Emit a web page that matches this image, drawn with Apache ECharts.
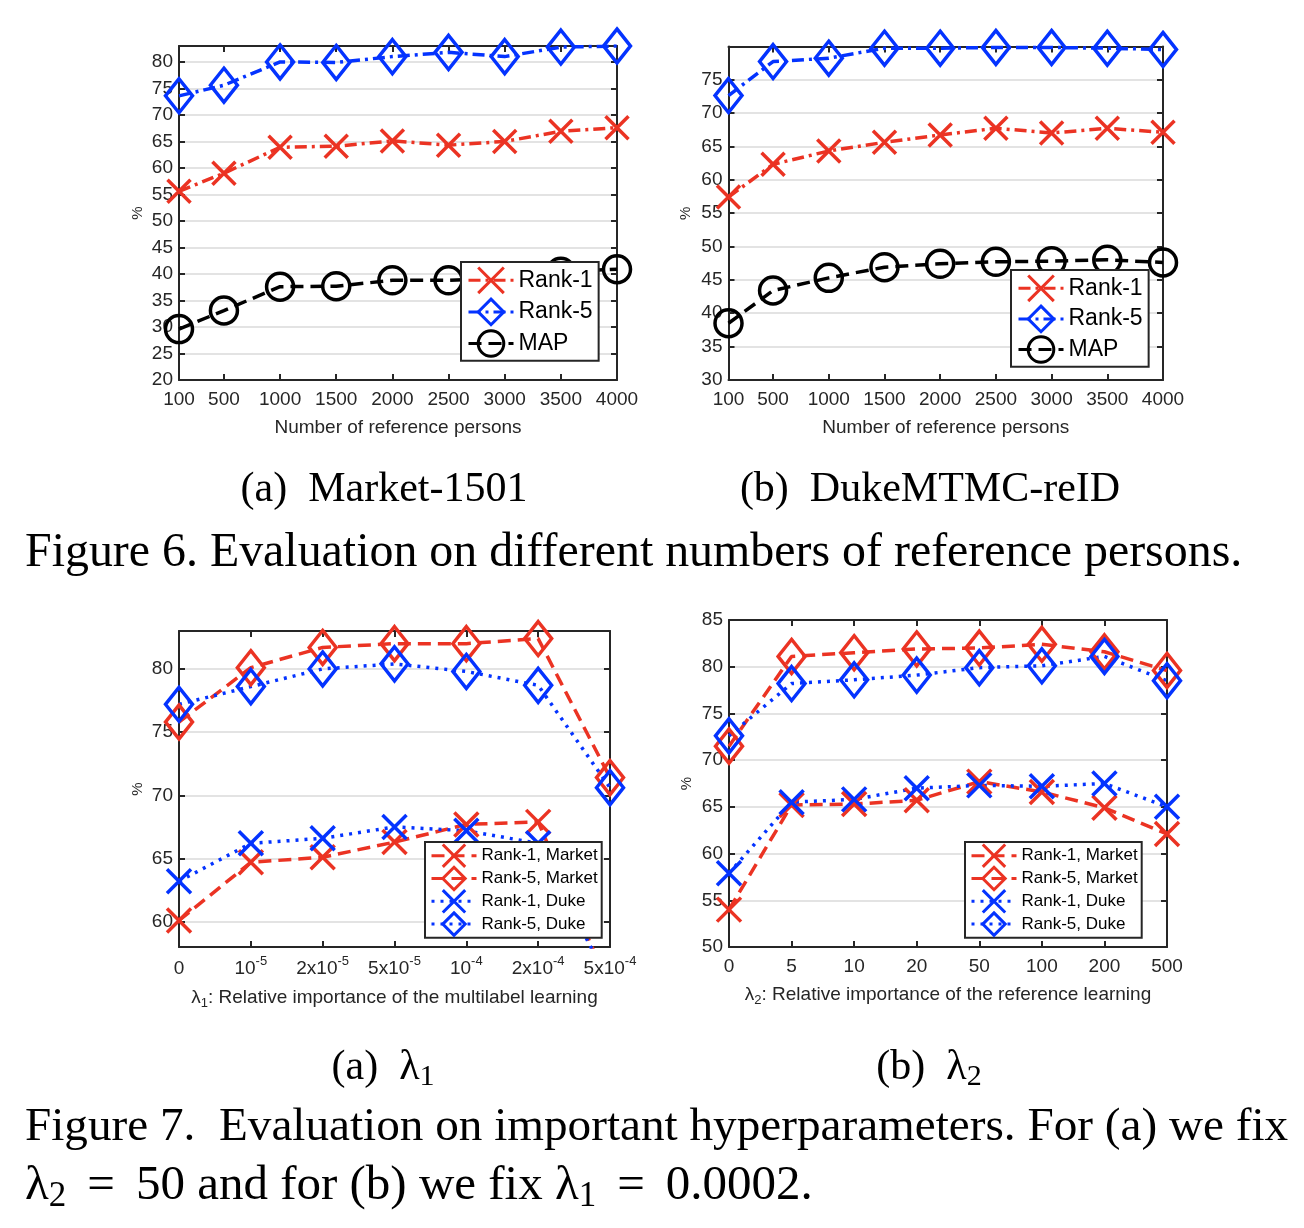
<!DOCTYPE html>
<html><head><meta charset="utf-8">
<script src="https://cdn.jsdelivr.net/npm/echarts@6/dist/echarts.min.js"></script>
<style>html,body{margin:0;padding:0;background:#fff}#c{width:1304px;height:1228px}</style>
</head><body><div id="c"></div>
<script>
// ---------- data ----------
const refPersons = [100, 500, 1000, 1500, 2000, 2500, 3000, 3500, 4000];
const marketRank1 = [55.6, 59.0, 63.9, 64.1, 65.1, 64.3, 65.0, 66.9, 67.6];
const marketRank5 = [73.6, 75.6, 80.0, 79.9, 81.0, 81.8, 81.0, 82.8, 83.0];
const marketMAP = [29.6, 33.1, 37.6, 37.7, 38.8, 38.8, 39.3, 40.4, 40.9];
const dukeRank1 = [57.4, 62.3, 64.3, 65.6, 66.7, 67.7, 67.0, 67.7, 67.1];
const dukeRank5 = [72.6, 77.7, 78.2, 79.7, 79.7, 79.8, 79.8, 79.7, 79.5];
const dukeMAP = [38.5, 43.4, 45.3, 46.9, 47.4, 47.7, 47.8, 48.0, 47.6];

const lambda1Cats = ['0', '1e-5', '2e-5', '5e-5', '1e-4', '2e-4', '5e-4'];
const lambda1Labels = ['0', '10{s|-5}', '2x10{s|-5}', '5x10{s|-5}', '10{s|-4}', '2x10{s|-4}', '5x10{s|-4}'];
const l1Rank1Market = [60.1, 64.7, 65.1, 66.3, 67.7, 67.9, 54.7];
const l1Rank5Market = [75.8, 80.1, 81.7, 82.0, 82.0, 82.4, 71.4];
const l1Rank1Duke = [63.2, 66.2, 66.6, 67.5, 67.2, 66.2, 55.0];
const l1Rank5Duke = [77.2, 78.6, 80.0, 80.4, 79.8, 78.7, 70.6];

const lambda2Cats = ['0', '5', '10', '20', '50', '100', '200', '500'];
const l2Rank1Market = [54.0, 65.2, 65.3, 65.7, 67.7, 66.6, 64.9, 62.1];
const l2Rank5Market = [71.5, 81.1, 81.5, 81.9, 82.0, 82.4, 81.6, 79.6];
const l2Rank1Duke = [57.9, 65.5, 65.8, 67.0, 67.3, 67.2, 67.5, 65.0];
const l2Rank5Duke = [72.6, 78.2, 78.6, 79.1, 79.9, 80.1, 81.1, 78.5];

const yTicksMarket = [20, 25, 30, 35, 40, 45, 50, 55, 60, 65, 70, 75, 80];
const yTicksDuke = [30, 35, 40, 45, 50, 55, 60, 65, 70, 75];
const yTicksL1 = [60, 65, 70, 75, 80];
const yTicksL2 = [50, 55, 60, 65, 70, 75, 80, 85];

// ---------- styles ----------
const RED = '#eb3323', BLUE = '#0433ff', BLK = '#000000', AX = '#262626';
const SANS = '"Liberation Sans", Arial, Helvetica, sans-serif';
const SERIF = '"Liberation Serif", "Times New Roman", serif';
const X_SYM = 'path://M0,0L20,20M20,0L0,20';
const DASHDOT = [12, 5, 3, 5], DASH = [13, 7], DOT = [3, 6];
const LW = 3.5;

const grids = [
  {left: 179, top: 46, width: 438, height: 334},
  {left: 728.5, top: 46.5, width: 434.5, height: 333.5},
  {left: 179, top: 631, width: 431, height: 316},
  {left: 729, top: 620, width: 438, height: 327}
];

const axLine = {show: true, lineStyle: {color: AX, width: 2}};
const tick = (vals) => Object.assign({show: true, inside: true, length: 6, lineStyle: {color: AX, width: 2}}, vals ? {customValues: vals} : {alignWithLabel: true, interval: 0});
const plain = (v) => String(v);

function valX(gi, top) {
  return {
    type: 'value', gridIndex: gi, min: 100, max: 4000, position: top ? 'top' : 'bottom',
    axisLine: axLine, axisTick: tick(refPersons), splitLine: {show: false},
    axisLabel: top ? {show: false} : {customValues: refPersons, formatter: plain, fontSize: 19, color: AX, margin: 10, fontFamily: SANS},
    name: top ? '' : 'Number of reference persons', nameLocation: 'middle', nameGap: 38,
    nameTextStyle: {fontSize: 19, color: AX, fontFamily: SANS}
  };
}
function catX(gi, cats, top, extra) {
  const a = {
    type: 'category', gridIndex: gi, data: cats, boundaryGap: false, position: top ? 'top' : 'bottom',
    axisLine: axLine, axisTick: tick(null), splitLine: {show: false},
    axisLabel: {show: !top, interval: 0, fontSize: 19, color: AX, margin: 10, fontFamily: SANS}
  };
  return Object.assign(a, top ? {} : extra);
}
function valY(gi, min, max, ticks, right, gap) {
  return {
    type: 'value', gridIndex: gi, min: min, max: max, position: right ? 'right' : 'left',
    axisLine: axLine, axisTick: tick(ticks),
    splitLine: right ? {show: false} : {show: true, lineStyle: {color: '#e3e3e3', width: 2}},
    axisLabel: right ? {show: false} : {customValues: ticks, formatter: plain, fontSize: 19, color: AX, margin: 6, fontFamily: SANS},
    name: right ? '' : '%', nameLocation: 'middle', nameGap: gap || 34,
    nameTextStyle: {fontSize: 15, color: AX, fontFamily: SANS}
  };
}

function ser(name, gi, data, color, symbol, size, dash) {
  return {
    type: 'line', name: name, xAxisIndex: gi, yAxisIndex: gi, data: data,
    symbol: symbol, symbolSize: size, showAllSymbol: true, symbolKeepAspect: false,
    lineStyle: {color: color, width: LW, type: dash},
    itemStyle: {color: 'rgba(0,0,0,0)', borderColor: color, borderWidth: LW},
    emphasis: {disabled: true}, z: 3
  };
}
const pairs = (xs, ys) => xs.map((x, i) => [x, ys[i]]);

const legendBase = {
  orient: 'vertical', itemWidth: 45, backgroundColor: '#fff', borderColor: AX, borderWidth: 2,
  itemStyle: {borderWidth: 3}, lineStyle: {width: 3}, selectedMode: false
};

const subRich = (fs, pad) => ({
  l: {fontSize: fs, fontFamily: SERIF, fill: '#000'},
  s: {fontSize: Math.round(fs * 0.72), fontFamily: SERIF, padding: [Math.round(fs * 0.42), 0, 0, 0]},
  e: {fontSize: fs, fontFamily: SERIF, padding: [0, pad || 6, 0, pad || 6]}
});

const option = {
  animation: false,
  backgroundColor: '#fff',
  textStyle: {fontFamily: SANS},
  grid: grids,
  xAxis: [
    valX(0, false), valX(1, false),
    catX(2, lambda1Cats, false, {
      axisLabel: {show: true, interval: 0, fontSize: 19, color: AX, margin: 8, fontFamily: SANS, lineHeight: 27,
        formatter: (v, i) => lambda1Labels[i],
        rich: {s: {fontSize: 13, lineHeight: 13, padding: [0, 0, 14, 0], fontFamily: SANS, color: AX}}},
      name: '{l|λ}{s|1}: Relative importance of the multilabel learning', nameLocation: 'middle', nameGap: 38,
      nameTextStyle: {fontSize: 19, color: AX, fontFamily: SANS, lineHeight: 25,
        rich: {l: {fontSize: 19, fontFamily: SANS, color: AX}, s: {fontSize: 13, lineHeight: 13, padding: [12, 0, 0, 0], fontFamily: SANS, color: AX}}}
    }),
    catX(3, lambda2Cats, false, {
      name: '{l|λ}{s|2}: Relative importance of the reference learning', nameLocation: 'middle', nameGap: 35,
      nameTextStyle: {fontSize: 19, color: AX, fontFamily: SANS, lineHeight: 25,
        rich: {l: {fontSize: 19, fontFamily: SANS, color: AX}, s: {fontSize: 13, lineHeight: 13, padding: [12, 0, 0, 0], fontFamily: SANS, color: AX}}}
    }),
    valX(0, true), valX(1, true), catX(2, lambda1Cats, true), catX(3, lambda2Cats, true)
  ],
  yAxis: [
    valY(0, 20, 83, yTicksMarket, false, 34),
    valY(1, 30, 79.95, yTicksDuke, false, 35),
    valY(2, 58, 83, yTicksL1, false, 34),
    valY(3, 50, 85, yTicksL2, false, 35),
    valY(0, 20, 83, yTicksMarket, true),
    valY(1, 30, 79.95, yTicksDuke, true),
    valY(2, 58, 83, yTicksL1, true),
    valY(3, 50, 85, yTicksL2, true)
  ],
  legend: [
    Object.assign({}, legendBase, {left: 461, top: 262, itemHeight: 32, itemGap: 3, padding: [4, 6, 3, 6],
      data: ['Rank-1', 'Rank-5', 'MAP'], textStyle: {fontSize: 23, color: '#000', fontFamily: SANS}}),
    Object.assign({}, legendBase, {left: 1011, top: 270, itemHeight: 32, itemGap: 2, padding: [4, 6, 3, 6],
      data: ['Rank-1 ', 'Rank-5 ', 'MAP '], formatter: (n) => n.trim(), textStyle: {fontSize: 23, color: '#000', fontFamily: SANS}}),
    Object.assign({}, legendBase, {left: 425, top: 842, itemHeight: 28, itemGap: -2.6, padding: [1, 4, 1, 5],
      data: ['Rank-1, Market', 'Rank-5, Market', 'Rank-1, Duke', 'Rank-5, Duke'], textStyle: {fontSize: 17, color: '#000', fontFamily: SANS}}),
    Object.assign({}, legendBase, {left: 965, top: 842, itemHeight: 28, itemGap: -2.6, padding: [1, 4, 1, 5],
      data: ['Rank-1, Market ', 'Rank-5, Market ', 'Rank-1, Duke ', 'Rank-5, Duke '], formatter: (n) => n.trim(), textStyle: {fontSize: 17, color: '#000', fontFamily: SANS}})
  ],
  series: [
    ser('MAP', 0, pairs(refPersons, marketMAP), BLK, 'circle', 27, DASH),
    ser('Rank-1', 0, pairs(refPersons, marketRank1), RED, X_SYM, 23, DASHDOT),
    ser('Rank-5', 0, pairs(refPersons, marketRank5), BLUE, 'diamond', [27, 34], DASHDOT),
    ser('MAP ', 1, pairs(refPersons, dukeMAP), BLK, 'circle', 27, DASH),
    ser('Rank-1 ', 1, pairs(refPersons, dukeRank1), RED, X_SYM, 23, DASHDOT),
    ser('Rank-5 ', 1, pairs(refPersons, dukeRank5), BLUE, 'diamond', [27, 34], DASHDOT),
    ser('Rank-1, Market', 2, l1Rank1Market, RED, X_SYM, 24, DASH),
    ser('Rank-5, Market', 2, l1Rank5Market, RED, 'diamond', [27, 34], DASH),
    ser('Rank-1, Duke', 2, l1Rank1Duke, BLUE, X_SYM, 24, DOT),
    ser('Rank-5, Duke', 2, l1Rank5Duke, BLUE, 'diamond', [27, 34], DOT),
    ser('Rank-1, Market ', 3, l2Rank1Market, RED, X_SYM, 24, DASH),
    ser('Rank-5, Market ', 3, l2Rank5Market, RED, 'diamond', [27, 34], DASH),
    ser('Rank-1, Duke ', 3, l2Rank1Duke, BLUE, X_SYM, 24, DOT),
    ser('Rank-5, Duke ', 3, l2Rank5Duke, BLUE, 'diamond', [27, 34], DOT)
  ],
  graphic: [
    {type: 'text', x: 384, y: 490, style: {text: '(a)  Market-1501', fontSize: 42, fontFamily: SERIF, fill: '#000', align: 'center', verticalAlign: 'middle'}},
    {type: 'text', x: 930, y: 490, style: {text: '(b)  DukeMTMC-reID', fontSize: 42, fontFamily: SERIF, fill: '#000', align: 'center', verticalAlign: 'middle'}},
    {type: 'text', x: 25, y: 553, style: {text: 'Figure 6. Evaluation on different numbers of reference persons.', fontSize: 47.9, fontFamily: SERIF, fill: '#000', align: 'left', verticalAlign: 'middle'}},
    {type: 'text', x: 383, y: 1068, style: {text: '(a)  {l|λ}{s|1}', rich: subRich(42), fontSize: 42, fontFamily: SERIF, fill: '#000', align: 'center', verticalAlign: 'middle'}},
    {type: 'text', x: 929, y: 1068, style: {text: '(b)  {l|λ}{s|2}', rich: subRich(42), fontSize: 42, fontFamily: SERIF, fill: '#000', align: 'center', verticalAlign: 'middle'}},
    {type: 'text', x: 25, y: 1128, style: {text: 'Figure 7.  Evaluation on important hyperparameters. For (a) we fix', fontSize: 47.2, fontFamily: SERIF, fill: '#000', align: 'left', verticalAlign: 'middle'}},
    {type: 'text', x: 25, y: 1186, style: {text: '{l|λ}{s|2}{e|=}50 and for (b) we fix {l|λ}{s|1}{e|=}0.0002.', rich: subRich(49, 21), fontSize: 49, fontFamily: SERIF, fill: '#000', align: 'left', verticalAlign: 'middle'}}
  ]
};

const chart = echarts.init(document.getElementById('c'), null, {renderer: 'canvas'});
chart.setOption(option);
</script>
</body></html>
